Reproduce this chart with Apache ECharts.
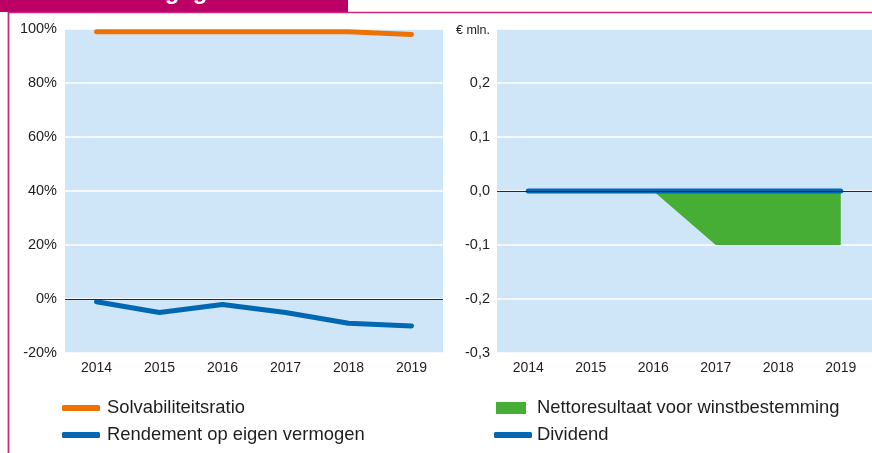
<!DOCTYPE html>
<html>
<head>
<meta charset="utf-8">
<script src="https://cdn.jsdelivr.net/npm/echarts@6/dist/echarts.min.js"></script>
<style>
  html, body { margin: 0; padding: 0; background: #fff; }
  #chart { width: 872px; height: 453px; }
</style>
</head>
<body>
<div id="chart"></div>
<script>
// Categories (years) shared by both panels
const years = ['2014', '2015', '2016', '2017', '2018', '2019'];

// Left panel: ratios in percent
const solvabiliteitsratio = [99, 99, 99, 99, 99, 98];
const rendementEigenVermogen = [-1, -5, -2, -5, -9, -10];

// Right panel: amounts in € mln.
const nettoresultaat = [0, 0, 0, -0.1, -0.1, -0.1];
const dividend = [0, 0, 0, 0, 0, 0];

// Axis ranges and tick steps
const pctAxis = { min: -20, max: 100, step: 20 };
const euroAxis = { min: -0.3, max: 0.3, step: 0.1 };

const COLORS = {
  orange: '#ee7203',
  blue: '#0067b3',
  green: '#46ad35',
  plotBg: '#cfe6f9',
  magenta: '#bb0066',
  text: '#1e1e1e'
};
const FONT = '"Liberation Sans", Arial, sans-serif';

const chart = echarts.init(document.getElementById('chart'), null, { renderer: 'canvas' });

const zeroLine = {
  silent: true,
  symbol: 'none',
  label: { show: false },
  lineStyle: { color: '#2a2a2a', width: 1.2, type: 'solid' },
  data: [{ yAxis: 0 }]
};

const commonX = {
  type: 'category',
  data: years,
  boundaryGap: true,
  axisLine: { show: false },
  axisTick: { show: false },
  axisLabel: { color: COLORS.text, fontSize: 14, fontFamily: FONT, margin: 8 }
};

function euroLabel(v) {
  if (Math.abs(v - euroAxis.max) < 1e-9) return '{u|€ mln.}';
  const x = Math.abs(v) < 1e-9 ? 0 : v;
  return x.toFixed(1).replace('.', ',');
}

const legendText = { fontSize: 18.4, fontFamily: FONT, color: COLORS.text, lineHeight: 20 };

const option = {
  animation: false,
  backgroundColor: '#fff',
  graphic: [
    { type: 'rect', shape: { x: 0, y: 0, width: 348, height: 12 }, style: { fill: COLORS.magenta }, z: 10 },
    {
      type: 'text', x: 110, y: -8, z: 11,
      style: { text: 'Kerngegevens', fill: '#fff', font: 'bold 24px ' + FONT, verticalAlign: 'middle' }
    },
    { type: 'line', shape: { x1: 8, y1: 12.5, x2: 872, y2: 12.5 }, style: { stroke: '#c42a82', lineWidth: 1.5 }, z: 10 },
    { type: 'line', shape: { x1: 8.5, y1: 12, x2: 8.5, y2: 453 }, style: { stroke: '#c42a82', lineWidth: 1.8 }, z: 10 }
  ],
  grid: [
    { left: 65, right: 429, top: 29, bottom: 100, show: true, backgroundColor: COLORS.plotBg, borderWidth: 0 },
    { left: 497, right: 0, top: 29, bottom: 100, show: true, backgroundColor: COLORS.plotBg, borderWidth: 0 }
  ],
  xAxis: [
    Object.assign({ gridIndex: 0 }, commonX),
    Object.assign({ gridIndex: 1 }, commonX)
  ],
  yAxis: [
    {
      gridIndex: 0, type: 'value',
      min: pctAxis.min, max: pctAxis.max, interval: pctAxis.step,
      axisLine: { show: false }, axisTick: { show: false },
      splitLine: { lineStyle: { color: '#ffffff', width: 1.5 } },
      axisLabel: { color: COLORS.text, fontSize: 14.5, fontFamily: FONT, margin: 8, formatter: '{value}%' }
    },
    {
      gridIndex: 1, type: 'value',
      min: euroAxis.min, max: euroAxis.max, interval: euroAxis.step,
      axisLine: { show: false }, axisTick: { show: false },
      splitLine: { lineStyle: { color: '#ffffff', width: 1.5 } },
      axisLabel: {
        color: COLORS.text, fontSize: 14.5, fontFamily: FONT, margin: 7,
        formatter: euroLabel,
        rich: { u: { fontSize: 12.5, fontFamily: FONT, color: COLORS.text, padding: [3, 0, 0, 0] } }
      }
    }
  ],
  legend: [
    {
      orient: 'vertical', left: 62, top: 398, padding: 0, itemGap: 7,
      itemWidth: 38, itemHeight: 6, icon: 'roundRect',
      textStyle: Object.assign({ padding: [0, 0, 0, 2] }, legendText),
      data: ['Solvabiliteitsratio', 'Rendement op eigen vermogen']
    },
    {
      orient: 'vertical', left: 496, top: 398, padding: 0,
      itemWidth: 30, itemHeight: 12, icon: 'rect',
      textStyle: Object.assign({ padding: [0, 0, 0, 6] }, legendText),
      data: ['Nettoresultaat voor winstbestemming']
    },
    {
      orient: 'vertical', left: 494, top: 425, padding: 0,
      itemWidth: 38, itemHeight: 6, icon: 'roundRect',
      textStyle: Object.assign({}, legendText),
      data: ['Dividend']
    }
  ],
  series: [
    {
      name: 'Solvabiliteitsratio', type: 'line', xAxisIndex: 0, yAxisIndex: 0,
      data: solvabiliteitsratio, showSymbol: false, symbol: 'none',
      color: COLORS.orange,
      lineStyle: { color: COLORS.orange, width: 5, cap: 'round', join: 'round' }
    },
    {
      name: 'Rendement op eigen vermogen', type: 'line', xAxisIndex: 0, yAxisIndex: 0,
      data: rendementEigenVermogen, showSymbol: false, symbol: 'none',
      color: COLORS.blue,
      lineStyle: { color: COLORS.blue, width: 5, cap: 'round', join: 'round' },
      markLine: zeroLine,
      z: 3
    },
    {
      name: 'Nettoresultaat voor winstbestemming', type: 'line', xAxisIndex: 1, yAxisIndex: 1,
      data: nettoresultaat, showSymbol: false, symbol: 'none',
      color: COLORS.green,
      lineStyle: { width: 0 },
      areaStyle: { color: COLORS.green, opacity: 1, origin: 0 },
      markLine: zeroLine,
      z: 2
    },
    {
      name: 'Dividend', type: 'line', xAxisIndex: 1, yAxisIndex: 1,
      data: dividend, showSymbol: false, symbol: 'none',
      color: COLORS.blue,
      lineStyle: { color: COLORS.blue, width: 5, cap: 'round', join: 'round' },
      z: 3
    }
  ]
};

chart.setOption(option);
</script>
</body>
</html>
